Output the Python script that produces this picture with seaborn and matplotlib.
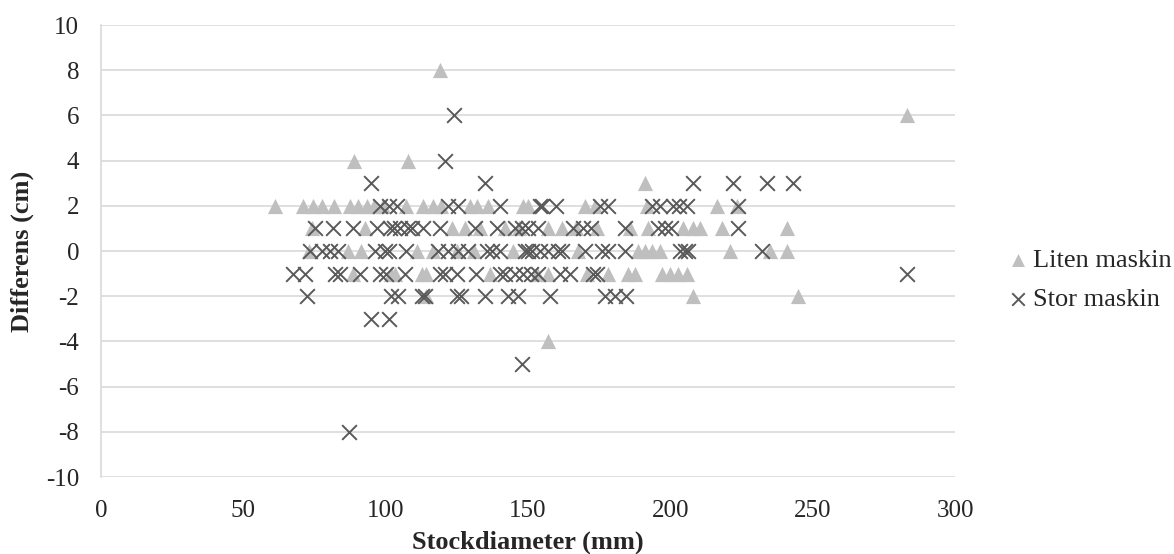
import matplotlib
matplotlib.use("Agg")
import matplotlib.pyplot as plt
import seaborn as sns
import pandas as pd

# Liten maskin (triangles)
liten_x = [119, 283, 89, 108, 191,
           61, 71, 74.6, 77.5, 82, 87.5, 90.4, 93.3, 96, 99, 107.3, 113, 116.7, 119.6, 129.6, 132, 136, 148.3, 150, 170, 173.5, 191.7, 216.3, 223.3,
           74, 92.7, 123.2, 128, 133, 142, 147, 157.1, 161.8, 167, 174.1, 185.8, 192.2, 204.5, 208, 210.4, 218, 240.9,
           73, 86.9, 91.5, 110.9, 116.7, 125, 131, 144.8, 167.7, 188.7, 191.1, 193.4, 196.3, 220.9, 235, 240.9,
           88.6, 102, 103.3, 112.6, 114, 136.6, 153, 157, 170.6, 178.2, 185.2, 187.6, 197, 199.9, 202.8, 205.7,
           114, 208, 245,
           157]
liten_y = [8, 6, 4, 4, 3] + [2] * 24 + [1] * 18 + [0] * 16 + [-1] * 16 + [-2] * 3 + [-4]

# Stor maskin (crosses)
stor_x = [124, 121,
          95, 135, 208, 222, 234, 243,
          98, 101, 104, 122, 125.5, 140, 154.2, 155, 160, 175.3, 178.2, 193.4, 196.3, 201, 203, 205.7, 223.9,
          75.2, 81.5, 88.6, 96.8, 101.5, 103, 105, 107.9, 109.1, 113.2, 119.1, 131.3, 139, 145.4, 148, 150.1, 153.6, 165.9, 169.4, 172, 184, 195.8, 198.1, 200.4, 223.9,
          73.4, 77.5, 80.4, 83.4, 96.2, 99.8, 101, 107.3, 118.5, 122, 125.5, 129, 135.5, 137.2, 140.1, 149, 150.1, 151.5, 154.2, 157.1, 160.6, 162, 170, 175.9, 178.2, 184, 203.4, 205, 206.3, 232.1,
          67.5, 71.7, 82.2, 84, 91, 98, 100, 106.8, 119.1, 120.8, 124.9, 131.9, 140.1, 141.9, 145.4, 148.3, 151, 153.6, 161.2, 164.7, 172.9, 174.1, 283,
          72.2, 102, 104.4, 112.6, 113.8, 124.9, 126.6, 134.9, 143.1, 146.6, 157.7, 177, 180.5, 184.6,
          95, 101,
          148,
          87]
stor_y = [6, 4] + [3] * 6 + [2] * 17 + [1] * 25 + [0] * 30 + [-1] * 23 + [-2] * 14 + [-3] * 2 + [-5] + [-8]

x_ticks = [0, 50, 100, 150, 200, 250, 300]
y_ticks = [-10, -8, -6, -4, -2, 0, 2, 4, 6, 8, 10]

df_l = pd.DataFrame({"x": liten_x, "y": liten_y})
df_s = pd.DataFrame({"x": stor_x, "y": stor_y})

sns.set_theme(style="white")
plt.rcParams["font.family"] = ["Liberation Serif", "DejaVu Serif"]

W, H = 1174, 554
fig = plt.figure(figsize=(W / 100, H / 100), dpi=100)
L, R, T, B = 101, 955, 25, 477
ax = fig.add_axes([L / W, 1 - B / H, (R - L) / W, (B - T) / H])

sns.scatterplot(data=df_l, x="x", y="y", marker="^", color="#BFBFBF", s=120,
                linewidth=0, ax=ax, label="Liten maskin", zorder=3)
sns.scatterplot(data=df_s, x="x", y="y", marker="x", color="#595959", s=112,
                linewidth=1.4, ax=ax, label="Stor maskin", zorder=4)

ax.set_xlim(0, 300)
ax.set_ylim(-10, 10)
ax.set_xticks(x_ticks)
ax.set_yticks(y_ticks)
ax.set_xticklabels([str(v) for v in x_ticks], fontsize=18)
ax.set_yticklabels([str(v) for v in y_ticks], fontsize=18)
ax.tick_params(axis="x", length=0, pad=16.5)
ax.tick_params(axis="y", length=0, pad=15.8)
ax.yaxis.grid(True, color="#D9D9D9", linewidth=1.2)
ax.xaxis.grid(False)
for s in ["top", "right", "bottom"]:
    ax.spines[s].set_visible(False)
ax.spines["left"].set_color("#D9D9D9")
ax.spines["left"].set_linewidth(1.2)
ax.set_axisbelow(True)

ax.set_xlabel("Stockdiameter (mm)", fontsize=19, fontweight="bold")
ax.set_ylabel("Differens (cm)", fontsize=19, fontweight="bold")
ax.xaxis.set_label_coords(0.5, (B - 531) / (B - T))
ax.yaxis.set_label_coords((34 - L) / (R - L), 0.5)

ax.legend(loc="center left", bbox_to_anchor=(1005 / W, 1 - 280 / H),
          bbox_transform=fig.transFigure, frameon=False, fontsize=19,
          handletextpad=0.06, labelspacing=0.6, borderpad=0, borderaxespad=0,
          handlelength=1.0, markerscale=0.85)

fig.savefig("out.png", dpi=100)
